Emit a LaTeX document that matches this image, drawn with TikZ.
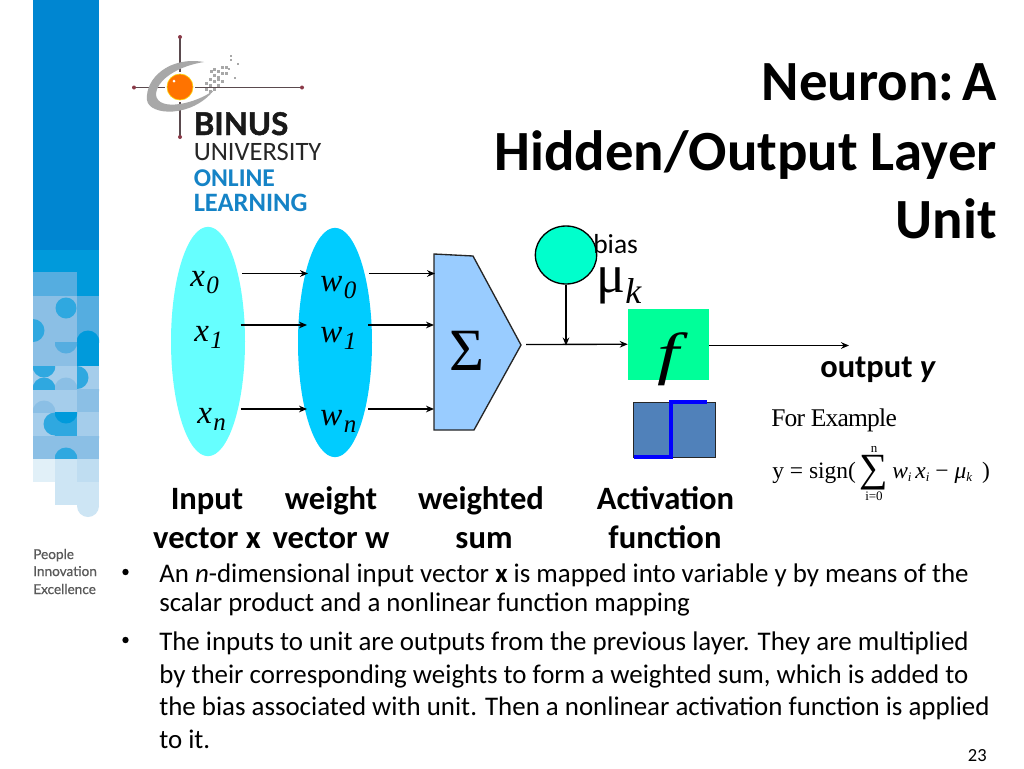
\documentclass[tikz,border=0pt]{standalone}
\usepackage{graphicx}
\usepackage{fontspec}
\usetikzlibrary{arrows.meta,shapes.geometric}
\setmainfont{Carlito}
\newfontfamily\tms{Liberation Serif}
\newfontfamily\lat{Lato}
\newcommand{\fsz}[1]{\fontsize{\dimexpr #1pt*3/4\relax}{\dimexpr #1pt*9/10\relax}\selectfont}
\definecolor{stripA}{HTML}{0086D1}
\definecolor{stripB}{HTML}{009ADB}
\definecolor{stripC}{HTML}{55ADE0}
\definecolor{stripD}{HTML}{8BBFE5}
\definecolor{stripE}{HTML}{A5CDEB}
\definecolor{stripF}{HTML}{2FA8E0}
\definecolor{stripG}{HTML}{BFDDF1}
\definecolor{stripH}{HTML}{E1F0F8}
\definecolor{stripI}{HTML}{CDE5F4}
\definecolor{logoblue}{HTML}{1583C6}
\definecolor{logogray}{HTML}{A8A8A8}
\definecolor{logoline}{HTML}{5A4A4E}
\definecolor{logodot}{HTML}{8A3A48}
\tikzset{
 conn/.style={draw=black,line width=1pt,-{Stealth[length=6pt,width=5pt]}},
 oval/.style={ellipse,draw=none,inner sep=0pt,minimum width=55.5pt,minimum height=172pt},
 lbl/.style={inner sep=0pt,anchor=base,align=center,font=\fsz{32.6}\bfseries},
 bodytxt/.style={inner sep=0pt,anchor=base west,font=\fsz{26.9}},
 greek/.style={inner sep=0pt,anchor=base west,font=\tms\itshape\fsz{33}},
 frm/.style={inner sep=0pt,anchor=base west,font=\tms\fsz{23.5}},
 tiny/.style={inner sep=0pt,anchor=base,font=\tms\fsz{13}},
 ttl/.style={inner sep=0pt,anchor=base east,font=\fsz{56.8}\bfseries},
 logotxt/.style={inner sep=0pt,anchor=base west},
 pietxt/.style={inner sep=0pt,anchor=base west,font=\lat\fsz{13.6}\addfontfeatures{FakeBold=0.5},text=black!65},
}
\newcommand{\sbs}[1]{{\fsz{25}\hspace{0.06em}\raisebox{-0.28em}{#1}}}
% part of a disc, cut to a rectangle
\newcommand{\dsc}[7]{\begin{scope}\clip (#1,#2) rectangle (#3,#4);\fill[#7] (#5,#6) circle[radius=11.5];\end{scope}}
\begin{document}
\begin{tikzpicture}[x=0.75pt,y=-0.75pt]
\useasboundingbox (0,0) rectangle (1024,768);
\fill[white] (0,0) rectangle (1024,768);
% strip
\fill[stripA] (33,0) rectangle (99,250);
\fill[stripB] (33,250) rectangle (99,272);
\fill[stripC] (33,272) rectangle (77,296);
\fill[stripB] (77,272) rectangle (99,296);
\fill[stripD] (33,296) rectangle (77,366);
\fill[stripC] (77,296) rectangle (99,342);
\fill[stripB] (77,342) rectangle (99,366);
\fill[stripE] (33,366) rectangle (99,412);
\fill[stripD] (77,389) rectangle (99,412);
\fill[stripE] (33,412) rectangle (99,436);
\fill[stripD] (33,436) rectangle (99,459);
\dsc{33}{319}{55}{342}{33}{330.5}{stripF}
\fill[stripF] (66,308) circle[radius=10.5];
\dsc{55}{342}{77}{366}{66}{342}{stripC}
\dsc{77}{319}{99}{342}{88}{342}{stripB}
\dsc{33}{366}{55}{389}{44}{366}{stripF}
\dsc{33}{366}{55}{389}{44}{389}{stripF}
\dsc{55}{366}{77}{389}{66}{389}{stripD}
\dsc{77}{366}{99}{389}{77}{377.5}{stripF}
\dsc{77}{389}{99}{412}{88}{389}{stripD}
\dsc{33}{389}{55}{412}{44}{412}{stripD}
\fill[stripF] (55,424) circle[radius=11.5];
\fill[stripF] (55,412.5) rectangle (77,435.5);
\dsc{55}{412}{77}{436}{66}{412}{stripB}
\dsc{77}{436}{99}{459}{88}{436}{stripD}
\dsc{55}{436}{77}{459}{66}{459}{stripF}
\fill[stripH] (33,459) rectangle (55,482);
\fill[stripI] (55,459) rectangle (77,505);
\fill[stripG] (77,459) rectangle (99,482);
\fill[stripI] (77,482) rectangle (99,506);
\fill[stripI] (88,506) circle[radius=11];
% logo
\coordinate (lgL) at (134,87.5); \coordinate (lgR) at (302,87.5);
\coordinate (lgT) at (180,37); \coordinate (lgB) at (180,137);
\draw[logoline,line width=1pt] (lgL) -- (lgR);
\draw[logoline,line width=1pt] (lgT) -- (lgB);
\foreach \p in {lgL,lgR,lgT,lgB}{\fill[logodot] (\p) circle[radius=2];}
\fill[logogray] (204,62) .. controls (170,56) and (145,78) .. (147,100) .. controls (149,116) and (192,118) .. (214,90)
 .. controls (196,104) and (158,112) .. (156,95) .. controls (156,80) and (178,66) .. (204,62) -- cycle;
\fill[white] (180,87) circle[radius=15];
\fill[orange!90!red,draw=yellow!70!orange,line width=0.5pt] (180,87) circle[radius=13];
\fill[white] (174,81) circle[radius=1.5];
\foreach \a/\b in {205/88,209/84,213/80,217/76,221/72,213/88,217/84,221/80,225/72,209/78,213/74,217/70,221/66,213/68,205/82,209/90,217/78,210/70,225/66}{\fill[logogray] (\a,\b) rectangle +(3,3);}
\foreach \a/\b in {230/55,230/59,237/63,234/77,228/68}{\fill[logogray] (\a,\b) rectangle +(1.8,1.8);}
\node[logotxt,font=\lat\fontsize{23.5}{26}\selectfont\bfseries\addfontfeatures{FakeBold=1.5},text=black!90] (logoA) at (193.5,135) {BINUS};
\node[logotxt,font=\fontsize{19.9}{22}\selectfont,text=black!85] (logoB) at (193.5,160) {UNIVERSITY};
\node[logotxt,font=\fontsize{19.2}{22}\selectfont\bfseries,text=logoblue] (logoC) at (193.5,186) {ONLINE};
\node[logotxt,font=\fontsize{19.9}{22}\selectfont\bfseries,text=logoblue] (logoD) at (193.5,211) {LEARNING};
% People Innovation Excellence
\node[pietxt] (pie1) at (33,559) {People};
\node[pietxt] (pie2) at (33,576) {Innovation};
\node[pietxt] (pie3) at (33,594) {Excellence};
% title
\node[ttl] (t1) at (997,100) {Neuron:\hspace{0.14em}A};
\node[ttl] (t2) at (997,170) {Hidden/Output Layer};
\node[ttl] (t3) at (997,238) {Unit};
% ovals
\node[oval,fill={rgb,255:red,102;green,255;blue,255}] (xoval) at (208,341.5) {};
\node[oval,fill={rgb,255:red,0;green,204;blue,255}] (woval) at (335,342.5) {};
% arrows left
\coordinate (a1) at (242,273.5); \coordinate (a2) at (308,273.5);
\coordinate (b1) at (240.5,325); \coordinate (b2) at (307,325);
\coordinate (c1) at (240.5,409); \coordinate (c2) at (307,409);
\coordinate (d1) at (369,273.5); \coordinate (d2) at (435,273.5);
\coordinate (e1) at (368,325); \coordinate (e2) at (434,325);
\coordinate (f1) at (368,409); \coordinate (f2) at (434,409);
% sum shape
\filldraw[fill={rgb,255:red,153;green,204;blue,255},draw=black!85,line width=1pt] (434,254) -- (473,256) -- (521,345) -- (474,430) -- (434,430) -- cycle;
\foreach \s/\e in {a1/a2,b1/b2,c1/c2,d1/d2,e1/e2,f1/f2}{\draw[conn] (\s) -- (\e);}
% labels
\node[greek] (x0) at (190,286) {x\sbs{0}};
\node[greek] (x1) at (194,341) {x\sbs{1}};
\node[greek] (xn) at (197,423) {x\sbs{n}};
\node[greek] (w0) at (320,291) {w\sbs{0}};
\node[greek] (w1) at (320,342) {w\sbs{1}};
\node[greek] (wn) at (320,425) {w\sbs{n}};
\node[inner sep=0pt,anchor=center,font=\tms\fsz{60}] (sig) at (467,351) {Σ};
% bias
\node[ellipse,draw=black,line width=1pt,fill={rgb,255:red,0;green,255;blue,204},inner sep=0pt,minimum width=46pt,minimum height=43.5pt] (biasc) at (566,255) {};
\node[inner sep=0pt,anchor=base west,font=\fsz{27.5}] (biast) at (593,253) {bias};
\node[inner sep=0pt,anchor=base west,font=\tms\fsz{54}] (mu) at (596,292) {μ};
\node[inner sep=0pt,anchor=base west,font=\tms\itshape\fsz{36}] (muk) at (625,303) {k};
% f
\node[rectangle,draw=none,fill={rgb,255:red,0;green,255;blue,153},inner sep=0pt,minimum width=60.75pt,minimum height=53.6pt] (fbox) at (668.5,344.25) {};
\node[inner sep=0pt,anchor=center,font=\tms\itshape\fsz{58}] (ff) at (668,359.5) {\scalebox{1.35}[1]{f}};
\coordinate (s1) at (526,344.5);
\coordinate (j) at (566,345.5);
\draw[conn] (biasc.south) -- (j);
\draw[conn] (s1) -- (fbox.west);
\coordinate (outend) at (849,345.5);
\draw[conn] (fbox.east |- outend) -- (outend);
% activation
\node[rectangle,draw=black!85,line width=0.8pt,fill={rgb,255:red,80;green,129;blue,186},inner sep=0pt,minimum width=61pt,minimum height=41.5pt] (act) at (674.5,430) {};
\coordinate (p1) at (634,457); \coordinate (p2) at (670.5,457); \coordinate (p3) at (670.5,402); \coordinate (p4) at (707,402);
\draw[draw={rgb,255:red,0;green,0;blue,255},line width=3pt] (p1) -- (p2) -- (p3) -- (p4);
% output
\node[inner sep=0pt,anchor=base west,font=\fsz{32.5}\bfseries] (outp) at (820,377) {output \textit{y}};
\node[frm,font=\tms\fsz{25.5}] (fe) at (771,426) {\addfontfeatures{LetterSpace=-3}For Example};
\node[frm] (fm1) at (772,478) {y = sign(};
\node[inner sep=0pt,anchor=base,font=\tms\fsz{40}] (fsum) at (874,481.5) {∑};
\node[tiny] (fn) at (874,452) {n};
\node[tiny] (fi) at (874,500) {i=0};
\node[frm] (fm2) at (892,478) {\textit{w}{\fsz{13}\raisebox{-0.3em}{\textit{i}}}\,\textit{x}{\fsz{13}\raisebox{-0.3em}{\textit{i}}} − \textit{μ}{\fsz{13}\raisebox{-0.3em}{\textit{k}}} \,)};
% lower labels
\node[lbl] (l1a) at (207,509) {Input};
\node[lbl] (l1b) at (207,548) {vector x};
\node[lbl] (l2a) at (331,509) {weight};
\node[lbl] (l2b) at (331,548) {vector w};
\node[lbl] (l3a) at (481,509) {weighted};
\node[lbl] (l3b) at (484,548) {sum};
\node[lbl] (l4a) at (665.5,509) {Activation};
\node[lbl] (l4b) at (665,548) {function};
% bullets
\fill (125.5,572) circle[radius=3.2];
\fill (125.5,640) circle[radius=3.2];
\node[bodytxt] (b1a) at (159,582) {An \textit{n}-dimensional input vector \textbf{x} is mapped into variable y by means of the};
\node[bodytxt] (b1b) at (159,611) {scalar product and a nonlinear function mapping};
\node[bodytxt] (b2a) at (159,650) {The inputs to unit are outputs from the previous layer. They are multiplied};
\node[bodytxt] (b2b) at (159,683) {by their corresponding weights to form a weighted sum, which is added to};
\node[bodytxt] (b2c) at (159,715) {the bias associated with unit. Then a nonlinear activation function is applied};
\node[bodytxt] (b2d) at (159,748) {to it.};
\node[inner sep=0pt,anchor=base east,font=\fsz{18.5}] (pg) at (987,761) {23};
\end{tikzpicture}
\end{document}
